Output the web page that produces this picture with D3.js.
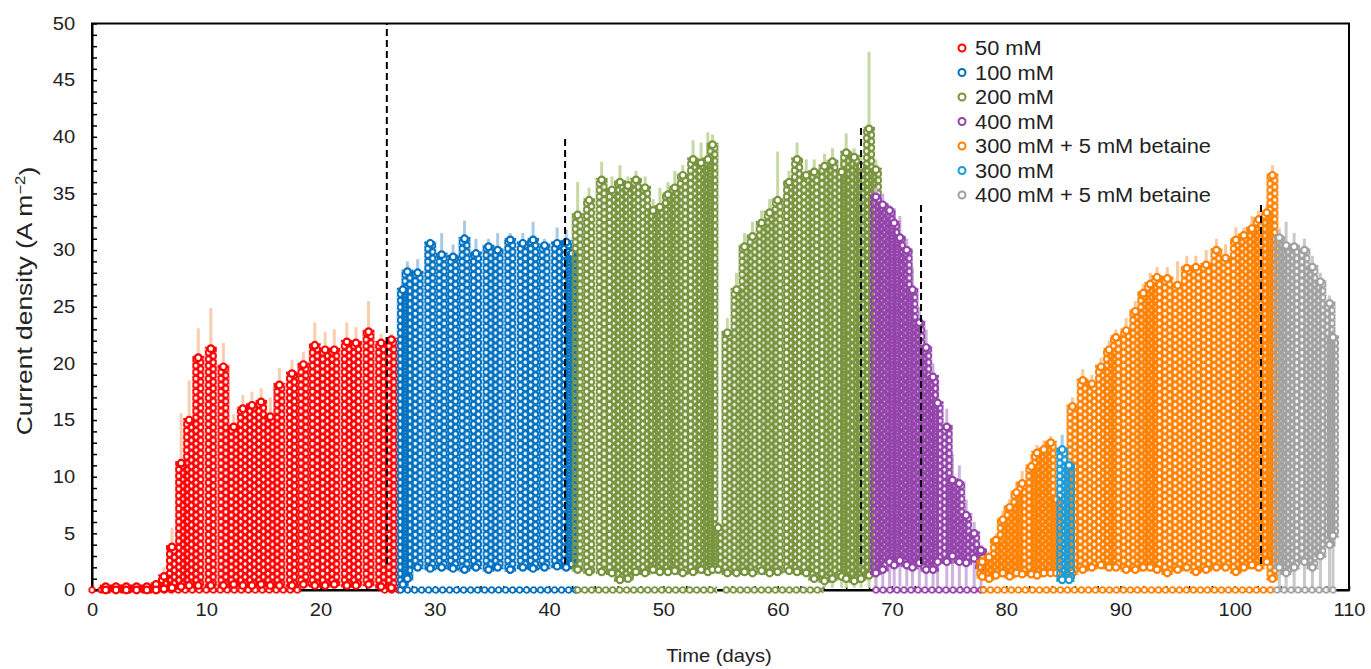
<!DOCTYPE html>
<html>
<head>
<meta charset="utf-8">
<script src="https://cdn.jsdelivr.net/npm/d3@7"></script>
<style>
body{margin:0;background:#fff}
svg text{font-family:"Liberation Sans",Arial,sans-serif;fill:#222}
</style>
</head>
<body>
<svg id="chart"></svg>
<script>
// series (legend order)
var seriesNames = ["50 mM","100 mM","200 mM","400 mM","300 mM + 5 mM betaine","300 mM","400 mM + 5 mM betaine"];
var seriesColors = ["#ff0000","#0070c0","#77933c","#9342aa","#ff8000","#1a9bd7","#a0a0a0"];
var seriesLight = ["#f9cdae","#a9c9e8","#c6d9a3","#cdb2dd","#fcc899","#93d1ee","#c9c9c9"];

// cycles: [day, low, peak, error top, (error bottom)]
var cycles50 = [[1.2,0,0.3,0.3],[2.1,0,0.3,0.3],[3.0,0,0.3,0.3],[3.9,0,0.3,0.3],[4.8,0,0.3,0.3],[5.6,0,0.5,0.8],
  [6.3,0.1,1.2,2.0],[7.0,0.2,3.8,5.5],[7.8,0.3,11.2,15.6],[8.5,0.4,15.0,18.5],[9.3,0.4,20.5,23.1],[10.4,0.4,21.3,24.9],
  [11.5,0.4,19.7,21.8],[12.4,0.5,14.4,15.5],[13.2,0.4,16.0,17.2],[14.0,0.4,16.3,17.5],[14.8,0.5,16.6,17.8],[15.6,0.4,15.3,17.0],
  [16.4,0.4,18.1,19.6],[17.5,0.4,19.1,20.3],[18.5,0.5,19.9,21.0],[19.5,0.4,21.6,23.6],[20.4,0.4,21.2,22.8],[21.2,0.5,21.2,23.0],
  [22.3,0.4,21.9,23.6],[23.1,0.4,21.8,23.2],[24.2,0.5,22.8,25.5],[25.3,0.3,21.8,22.6],[26.2,0.2,22.1,22.6]];
var cycles100 = [[27.2,0.5,26.5,27.0],[27.6,1.0,28.1,29.0],[28.5,2.0,28.0,29.2],[29.6,1.9,30.6,31.0],[30.6,2.0,29.6,31.5],
  [31.6,1.9,29.4,30.5],[32.6,1.8,31.0,32.6],[33.6,2.0,29.7,31.0],[34.7,1.8,30.3,31.0],[35.5,2.0,30.0,31.5],[36.6,1.8,30.9,31.5],
  [37.7,2.0,30.6,31.5],[38.6,1.9,30.9,32.5],[39.6,2.0,30.4,31.0],[40.7,2.1,30.6,32.0],[41.5,2.0,30.7,31.8],[42.0,2.3,29.7,30.5]];
var cycles200 = [[42.5,1.8,33.1,36.0],[43.5,1.6,34.4,35.5],[44.6,1.6,36.2,37.8],[45.5,1.5,35.3,36.5],[46.2,0.9,36.0,37.5],
  [46.9,1.0,35.7,36.5],[47.6,1.6,36.2,37.0],[48.4,1.5,35.5,36.5],[49.1,1.8,33.5,34.5],[49.7,1.6,33.8,35.5],[50.4,1.6,34.9,36.0],
  [51.0,1.7,35.5,37.0],[51.7,1.5,36.6,37.5],[52.6,1.6,38.0,39.7],[53.3,1.8,37.7,39.5],[53.9,1.6,38.0,40.4],[54.3,1.8,39.3,40.2],
  [54.8,1.8,5.5,6.0],[55.6,1.5,22.7,24.0],[56.4,1.5,26.5,28.0],[57.1,1.6,30.3,31.5],[57.8,1.5,31.2,32.5],[58.6,1.7,32.4,33.5],
  [59.3,1.5,33.3,34.5],[60.0,1.6,34.4,38.7],[61.0,1.7,36.0,37.0],[61.7,1.6,38.0,39.5],[62.5,1.5,36.6,38.0],[63.2,1.0,36.9,38.0],
  [64.1,0.8,37.4,38.5,0.2],[64.8,1.0,37.8,39.0,0.2],[65.6,1.2,36.9,38.0,0.2],[66.0,1.0,38.6,40.3,0.2],[66.7,0.8,38.2,39.0,0.2],
  [67.3,1.0,37.4,38.5,0.2],[68.0,1.3,40.7,47.5,0.2],[68.6,1.8,37.1,38.0,0.2]];
var cycles400 = [[68.6,1.5,34.7,35.5,0.3],[69.2,1.8,34.0,35.0,0.3],[69.8,2.5,33.5,34.0,0.3],[70.2,2.2,32.4,33.5,0.3],
  [70.7,2.6,31.1,33.0,0.3],[71.3,2.2,30.0,31.0,0.3],[71.8,2.0,26.5,28.5,0.3],[72.4,2.4,23.6,25.0,0.3],[73.0,1.8,21.4,23.0,0.3],
  [73.6,1.8,18.8,20.0,0.3],[74.0,2.5,16.5,18.5,0.3],[74.8,2.5,14.4,16.0,0.3],[75.3,3.0,9.7,12.0,0.3],[75.9,2.5,9.4,11.0,0.3],
  [76.5,2.4,6.6,8.0,0.3],[77.2,2.8,5.0,6.0,0.3],[77.8,2.0,3.5,4.0,0.3]];
var cycles300b = [[77.9,1.2,2.5,3.0],[78.5,1.0,2.9,3.4],[79.1,1.3,4.4,5.0],[79.7,1.5,6.2,7.0],[80.3,1.2,7.3,8.0],[80.9,1.5,8.6,9.5],
  [81.4,1.4,9.4,10.5],[82.2,1.4,10.9,12.0],[82.7,1.3,12.1,12.8],[83.3,1.5,12.4,13.2],[83.9,1.5,13.0,13.6],[84.4,1.5,8.0,9.0],
  [85.8,1.5,16.2,17.0],[86.7,1.8,18.5,19.5],[87.5,2.0,18.2,19.0],[88.3,2.2,19.7,20.5],[89.0,2.0,21.2,22.0],[89.6,2.0,22.3,23.0],
  [90.5,1.8,22.9,24.0],[91.3,1.8,24.6,25.5],[92.0,2.0,26.2,27.0],[92.6,2.0,27.0,28.0],[93.2,1.8,27.6,28.5],[94.1,1.5,27.5,28.5],
  [95.0,1.8,26.9,29.0],[95.8,2.0,28.4,29.5],[96.6,1.6,28.5,29.5],[97.5,1.8,28.7,30.0],[98.4,2.0,30.0,31.0],[99.2,2.0,29.3,30.5],
  [100.1,1.6,30.9,32.0],[100.8,2.0,31.3,32.0],[101.5,2.2,31.9,33.0],[102.1,2.0,32.7,33.5],[102.8,2.5,33.3,34.0],[103.3,1.0,36.6,37.5]];
var cycles300 = [[84.9,0.9,12.4,13.7],[85.5,0.9,11.0,11.5]];
var cycles400b = [[103.9,2.0,31.1,31.9,0],[104.5,1.5,30.4,32.5,0],[105.2,2.0,30.3,31.5,0],[106.1,2.5,30.0,31.0,0],
  [106.8,2.0,28.5,29.5,0],[107.5,3.0,27.2,28.0,0],[108.3,4.0,25.3,26.0,0],[108.6,4.8,22.3,23.0,0]];

// runs of points sitting on zero: [from day, to day]
var zero50 = [[0,0],[0.8,18.0],[25.6,26.6]];
var zero100 = [[27.0,42.3]];
var zero200 = [[42.5,54.4],[55.5,63.7]];
var zero400 = [[68.6,77.6]];
var zero300b = [[78.0,103.3]];
var zero300 = [];
var zero400b = [[103.7,108.6]];

// dashed phase markers
var phaseDay = [25.8, 41.4, 67.3, 72.55, 102.3];
var phaseTop = [50, 40, 41, 34, 34.3];
var phaseBottom = 2.3;

var seriesCycles = [cycles50, cycles100, cycles200, cycles400, cycles300b, cycles300, cycles400b];
var seriesZero = [zero50, zero100, zero200, zero400, zero300b, zero300, zero400b];

var width = 1371, height = 669;
var x = d3.scaleLinear().domain([0,110]).range([92,1349]);
var y = d3.scaleLinear().domain([0,50]).range([590,23.5]);
var colW = 12;
var stretch = "scale(1.12,1)";

var svg = d3.select("#chart").attr("width", width).attr("height", height);
var defs = svg.append("defs");

// ring textures for the dense marker columns
seriesColors.forEach(function(c, i){
  var p = defs.append("pattern").attr("id","col"+i)
    .attr("patternUnits","userSpaceOnUse").attr("width",colW).attr("height",6.5);
  [[3.8,1.6],[3.8,8.1],[8.2,4.85],[8.2,-1.65]].forEach(function(o){
    p.append("circle").attr("cx",o[0]).attr("cy",o[1]).attr("r",3)
      .attr("fill","none").attr("stroke",c).attr("stroke-width",2.2);
  });
  var z = defs.append("pattern").attr("id","zero"+i)
    .attr("patternUnits","userSpaceOnUse").attr("width",7).attr("height",10).attr("y", y(0)-5);
  z.append("circle").attr("cx",3.5).attr("cy",5).attr("r",2.8)
    .attr("fill","#fff").attr("stroke",c).attr("stroke-width",1.8);
});

// frame
svg.append("rect").attr("x",x(0)).attr("y",y(50)).attr("width",x(110)-x(0)).attr("height",y(0)-y(50))
  .attr("fill","none").attr("stroke","#000").attr("stroke-width",2);

// axes
var yAxis = d3.axisLeft(y).tickValues(d3.range(0,51,1)).tickSizeInner(-5).tickSizeOuter(0).tickPadding(15)
  .tickFormat(function(d){ return d % 5 === 0 ? d : ""; });
var gy = svg.append("g").attr("transform","translate(" + x(0) + ",0)").call(yAxis);
var xAxis = d3.axisBottom(x).tickValues(d3.range(0,111,2)).tickSizeInner(-4).tickSizeOuter(0).tickPadding(13)
  .tickFormat(function(d){ return d % 10 === 0 ? d : ""; });
var gx = svg.append("g").attr("transform","translate(0," + y(0) + ")").call(xAxis);
[gx, gy].forEach(function(g){
  g.attr("font-family",null).attr("font-size",null);
  g.select(".domain").attr("stroke","#000").attr("stroke-width",2);
  g.selectAll(".tick line").attr("stroke","#000").attr("stroke-width",1.5);
  g.selectAll(".tick text").style("font-size","18px").attr("fill","#222").attr("transform",stretch);
});

// series
seriesCycles.forEach(function(rows, i){
  var g = svg.append("g").attr("class","series s"+i);
  g.selectAll("line.err").data(rows).enter().append("line").attr("class","err")
    .attr("x1",function(d){ return x(d[0]); }).attr("x2",function(d){ return x(d[0]); })
    .attr("y1",function(d){ return y(d.length > 4 ? d[4] : d[2]); })
    .attr("y2",function(d){ return y(d[3]); })
    .attr("stroke",seriesLight[i]).attr("stroke-width",3);
  g.selectAll("rect.zero").data(seriesZero[i]).enter().append("rect").attr("class","zero")
    .attr("transform",function(d){ return "translate(" + (x(d[0]) - 3.5) + ",0)"; })
    .attr("x",0).attr("y",y(0)-5).attr("height",10)
    .attr("width",function(d){ return x(d[1]) - x(d[0]) + 7; })
    .attr("fill","url(#zero"+i+")");
  g.selectAll("rect.col").data(rows).enter().append("rect").attr("class","col")
    .attr("transform",function(d){ return "translate(" + (x(d[0]) - colW/2) + ",0)"; })
    .attr("x",0).attr("y",function(d){ return y(d[2]) - 2; })
    .attr("width",colW)
    .attr("height",function(d){ return y(d[1]) - y(d[2]) + 4; })
    .attr("fill","url(#col"+i+")");
  g.selectAll("circle.peak").data(rows).enter().append("circle").attr("class","peak")
    .attr("cx",function(d){ return x(d[0]); }).attr("cy",function(d){ return y(d[2]); })
    .attr("r",3.3).attr("fill","#fff").attr("stroke",seriesColors[i]).attr("stroke-width",2.2);
  g.selectAll("circle.low").data(rows).enter().append("circle").attr("class","low")
    .attr("cx",function(d){ return x(d[0]); }).attr("cy",function(d){ return y(d[1]); })
    .attr("r",3.3).attr("fill","#fff").attr("stroke",seriesColors[i]).attr("stroke-width",2.2);
});

// dashed phase lines
svg.selectAll("line.phase").data(phaseDay).enter().append("line").attr("class","phase")
  .attr("x1",function(d){ return x(d); }).attr("x2",function(d){ return x(d); })
  .attr("y1",y(phaseBottom)).attr("y2",function(d,i){ return y(phaseTop[i]); })
  .attr("stroke","#000").attr("stroke-width",2).attr("stroke-dasharray","7,4");

// legend
var lg = svg.append("g").attr("transform","translate(962,48)");
seriesNames.forEach(function(n, i){
  var row = lg.append("g").attr("transform","translate(0," + (i*24.5) + ")");
  row.append("circle").attr("r",3.5).attr("fill","#fff").attr("stroke",seriesColors[i]).attr("stroke-width",2);
  row.append("text").attr("x",0).attr("dy","0.36em").attr("transform","translate(13,0) " + stretch)
    .style("font-size","19.5px").text(n);
});

// axis titles
svg.append("text").attr("transform","translate(719,656) " + stretch).attr("text-anchor","middle")
  .attr("dy","0.35em").style("font-size","18px").text("Time (days)");
var yt = svg.append("text").attr("transform","translate(24,301) rotate(-90) scale(1.2,1)")
  .attr("text-anchor","middle").attr("dy","0.35em").style("font-size","22px");
yt.append("tspan").text("Current density (A m");
yt.append("tspan").attr("dy","-0.45em").style("font-size","14px").text("\u22122");
yt.append("tspan").attr("dy","0.45em").text(")");
</script>
</body>
</html>
